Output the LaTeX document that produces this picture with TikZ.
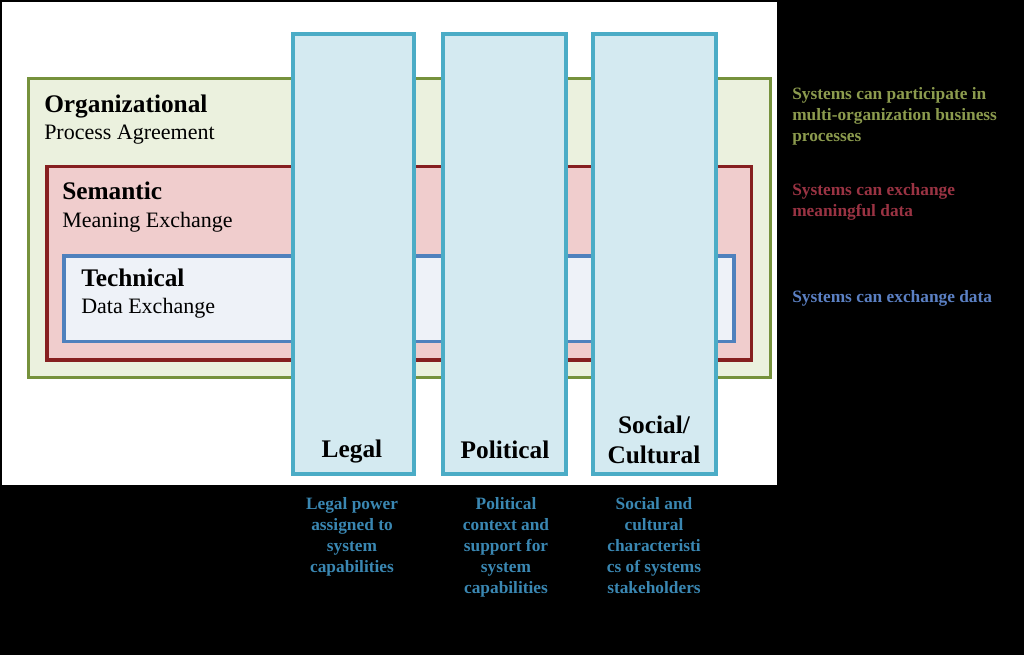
\documentclass[tikz,border=0pt]{standalone}
\usepackage{fontspec}
\setmainfont{Liberation Serif}

\definecolor{orgline}{HTML}{76923C}
\definecolor{orgfill}{HTML}{EBF1DE}
\definecolor{semline}{HTML}{862020}
\definecolor{semfill}{HTML}{F0CDCD}
\definecolor{techline}{HTML}{4F81BD}
\definecolor{techfill}{HTML}{EEF2F8}
\definecolor{colline}{HTML}{4BACC6}
\definecolor{colfill}{HTML}{D4EAF1}
\definecolor{orgnote}{HTML}{8C9B4E}
\definecolor{semnote}{HTML}{9A3343}
\definecolor{technote}{HTML}{5B80C3}
\definecolor{colnote}{HTML}{3A87B2}

\tikzset{
  head/.style={inner sep=0pt, font=\fontsize{19}{22.5}\selectfont\bfseries},
  sub/.style={inner sep=0pt, font=\fontsize{16.5}{20}\selectfont},
  note/.style={inner sep=0pt, font=\bfseries\fontsize{13}{15.75}\selectfont},
  column/.style={draw=colline, fill=colfill, line width=3pt}
}

\begin{document}
\begin{tikzpicture}[x=0.75pt,y=-0.75pt]
 \fill[black](0,0) rectangle (1024,655);
 \useasboundingbox (0,0) rectangle (1024,655);
 \fill[white](2,2) rectangle (777,485);
 % nested layers
 \draw[draw=orgline,fill=orgfill,line width=2.25pt](28,78.5) rectangle (770,378);
 \draw[draw=semline,fill=semfill,line width=2.6pt](47,166.5) rectangle (751.5,360);
 \draw[draw=techline,fill=techfill,line width=2.6pt](64,256) rectangle (734,341.5);
 \node[head,anchor=base west] (orghead) at (44,113) {Organizational};
 \node[sub,anchor=base west] (orgsub) at (44,140) {Process Agreement};
 \node[head,anchor=base west] (semhead) at (62,200) {Semantic};
 \node[sub,anchor=base west] (semsub) at (62,228) {Meaning Exchange};
 \node[head,anchor=base west] (techhead) at (81,287) {Technical};
 \node[sub,anchor=base west] (techsub) at (81,314) {Data Exchange};
 % columns
 \draw[column](293,34) rectangle (414,474);
 \draw[column](443,34) rectangle (566,474);
 \draw[column](593,34) rectangle (716,474);
 \node[head,anchor=base] (legal) at (352,458) {Legal};
 \node[head,anchor=base] (political) at (505,459) {Political};
 \node[head,anchor=base] (social) at (654,434) {Social/};
 \node[head,anchor=base] (cultural) at (654,464) {Cultural};
 % notes below
 \node[note,colnote,align=center,anchor=north] (legalnote) at (352,497)
   {Legal power\\assigned to\\system\\capabilities};
 \node[note,colnote,align=center,anchor=north] (politicalnote) at (506,497)
   {Political\\context and\\support for\\system\\capabilities};
 \node[note,colnote,align=center,anchor=north] (socialnote) at (654,497)
   {Social and\\cultural\\characteristi\\cs of systems\\stakeholders};
 % notes right
 \node[note,orgnote,align=left,anchor=north west] (orgnotes) at (792,87)
   {Systems can participate in\\multi-organization business\\processes};
 \node[note,semnote,align=left,anchor=north west] (semnotes) at (792,183)
   {Systems can exchange\\meaningful data};
 \node[note,technote,align=left,anchor=north west] (technotes) at (792,290)
   {Systems can exchange data};
\end{tikzpicture}
\end{document}
